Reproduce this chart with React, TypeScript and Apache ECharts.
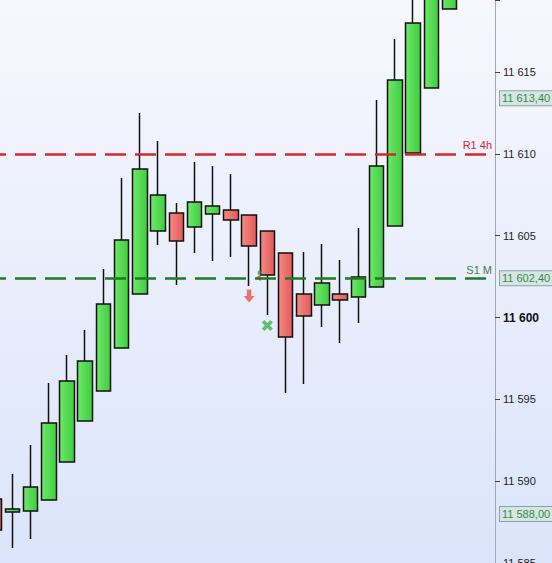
import React, { useEffect, useRef } from "react";
import * as echarts from "echarts";

const categories = ["1","2","3","4","5","6","7","8","9","10","11","12","13","14","15","16","17","18","19","20","21","22","23","24","25","26","27","28"];
const opens = [11588.91, 11588.11, 11588.17, 11588.85, 11591.17, 11593.68, 11595.51, 11598.14, 11601.44, 11605.28, 11606.38, 11605.53, 11606.32, 11606.57, 11606.26, 11605.28, 11603.94, 11601.44, 11600.76, 11601.44, 11601.25, 11601.86, 11605.59, 11610.05, 11614.02, 11618.85];
const closes = [11587.02, 11588.30, 11589.65, 11593.56, 11596.12, 11597.34, 11600.82, 11604.73, 11609.07, 11607.48, 11604.67, 11607.06, 11606.81, 11605.96, 11604.37, 11602.60, 11598.81, 11600.09, 11602.11, 11601.07, 11602.47, 11609.25, 11614.51, 11617.99, 11621.20, 11622.00];
const lows = [11586.6, 11585.92, 11586.47, 11588.85, 11591.17, 11593.68, 11595.51, 11598.14, 11601.44, 11604.43, 11601.99, 11603.94, 11603.45, 11603.70, 11601.92, 11600.15, 11595.39, 11595.94, 11599.42, 11598.44, 11599.66, 11601.86, 11605.59, 11610.05, 11614.02, 11618.85];
const highs = [11589.4, 11590.44, 11592.21, 11596.00, 11597.71, 11599.24, 11602.96, 11608.52, 11612.49, 11610.78, 11606.99, 11609.50, 11609.25, 11608.77, 11606.26, 11605.28, 11603.94, 11604.00, 11604.49, 11603.51, 11605.47, 11613.29, 11617.01, 11620.60, 11622.40, 11623.00];

const levelR1 = 11610.0;
const levelS1 = 11602.4;
const priceTags = [11613.4, 11602.4, 11588.0];
const yMin = 11585;
const yMax = 11619.4;

const sellSignal = { index: 14, value: 11601.31 };
const crossSignal = { index: 15, value: 11599.51 };
const flagSignal = { index: 15, value: 11602.55 };

const fmt = (v: number, dec: number) => {
  const s = v.toFixed(dec);
  const [ip, fp] = s.split(".");
  const withSpace = ip.replace(/\B(?=(\d{3})+(?!\d))/g, " ");
  return fp ? withSpace + "," + fp : withSpace;
};

export default function App() {
  const ref = useRef<HTMLDivElement>(null);
  useEffect(() => {
    if (!ref.current) return;
    const chart = echarts.init(ref.current, null, { renderer: "svg" });
    const candleData = opens.map((o, i) => [o, closes[i], lows[i], highs[i]]);
    const upFill = new echarts.graphic.LinearGradient(0, 0, 1, 0, [
      { offset: 0, color: "#6ee86a" },
      { offset: 1, color: "#3fcd3f" },
    ]);
    const downFill = new echarts.graphic.LinearGradient(0, 0, 1, 0, [
      { offset: 0, color: "#f48a84" },
      { offset: 1, color: "#e25a58" },
    ]);
    const tagLines = priceTags.map((v) => ({
      yAxis: v,
      lineStyle: { color: "rgba(0,0,0,0)", width: 1, type: "solid" },
      label: {
        show: true,
        position: "end",
        distance: 5,
        formatter: fmt(v, 2),
        color: "#2f8f3a",
        fontSize: 11,
        fontFamily: "Liberation Sans",
        backgroundColor: "#d7e5e6",
        borderColor: "#86a3a6",
        borderWidth: 1,
        padding: [2, 3, 1, 2],
      },
    }));
    chart.setOption({
      animation: false,
      grid: { left: -15, right: 57, top: 0, bottom: 0, outerBoundsMode: "none", containLabel: false },
      xAxis: {
        type: "category",
        data: categories,
        show: false,
        boundaryGap: true,
      },
      yAxis: {
        type: "value",
        position: "right",
        min: yMin,
        max: yMax,
        interval: 5,
        splitLine: { show: false },
        axisLine: { show: true, lineStyle: { color: "#9ea7bb", width: 1 } },
        axisTick: { show: true, length: 5, lineStyle: { color: "#444" } },
        axisLabel: {
          margin: 8,
          fontSize: 11,
          color: "#222",
          fontFamily: "Liberation Sans",
          formatter: (v: number) => {
            if (Math.abs(v % 5) > 0.001) return "";
            if (v === 11600) return "{b|" + fmt(v, 0) + "}";
            return fmt(v, 0);
          },
          rich: {
            b: { fontWeight: "bold", fontSize: 12, color: "#111", fontFamily: "Liberation Sans" },
          },
        },
      },
      series: [
        {
          type: "candlestick",
          data: candleData,
          barWidth: 15,
          itemStyle: {
            color: upFill,
            color0: downFill,
            borderColor: "#111",
            borderColor0: "#111",
            borderWidth: 1.5,
          },
          markLine: {
            symbol: "none",
            silent: true,
            data: [
              {
                yAxis: levelR1,
                lineStyle: { color: "#d8262b", width: 2.5, type: [21, 9] },
                label: {
                  show: true,
                  position: "insideEndTop",
                  formatter: "R1 4h",
                  color: "#d8262b",
                  fontSize: 11,
                  fontFamily: "Liberation Sans",
                  distance: 3,
                },
              },
              {
                yAxis: levelS1,
                lineStyle: { color: "#1f7a22", width: 2.5, type: [21, 9] },
                label: {
                  show: true,
                  position: "insideEndTop",
                  formatter: "S1 M",
                  color: "#3c7f46",
                  fontSize: 11,
                  fontFamily: "Liberation Sans",
                  distance: 3,
                },
              },
              ...tagLines,
            ],
          },
        },
        {
          type: "scatter",
          silent: true,
          data: [
            {
              value: [sellSignal.index, sellSignal.value],
              symbol: "path://M3,0L7,0L7,6L10,6L5,12L0,6L3,6Z",
              symbolSize: [11, 13],
              itemStyle: { color: "#e5534f" },
            },
            {
              value: [crossSignal.index, crossSignal.value],
              symbol: "path://M3.5,0L6.5,0L6.5,3.5L10,3.5L10,6.5L6.5,6.5L6.5,10L3.5,10L3.5,6.5L0,6.5L0,3.5L3.5,3.5Z",
              symbolRotate: 45,
              symbolSize: 12,
              itemStyle: { color: "#3cb34a" },
            },
            {
              value: [flagSignal.index, flagSignal.value],
              symbol: "path://M10,0L10,10L0,5Z",
              symbolSize: [5, 7],
              symbolOffset: [-9, 2],
              itemStyle: { color: "#e0403c" },
            },
            {
              value: [flagSignal.index, flagSignal.value],
              symbol: "rect",
              symbolSize: [3, 4],
              symbolOffset: [-8, -3],
              itemStyle: { color: "#2fa83a" },
            },
          ],
        },
      ],
    });
    return () => chart.dispose();
  }, []);
  return (
    <div
      ref={ref}
      style={{
        position: "absolute",
        left: 0,
        top: 0,
        width: 552,
        height: 563,
        background: "linear-gradient(#f7f8fe, #dbe4fa)",
      }}
    />
  );
}
